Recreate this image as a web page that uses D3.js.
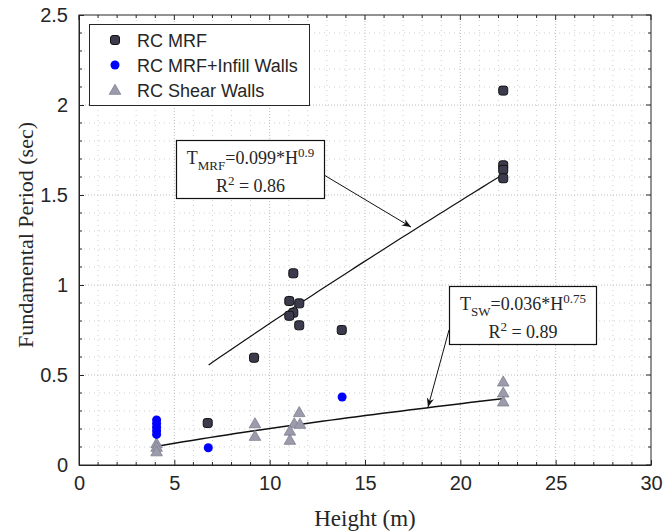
<!DOCTYPE html>
<html><head><meta charset="utf-8">
<script src="https://cdn.jsdelivr.net/npm/d3@7"></script>
<style>body{margin:0;background:#fff}svg{display:block}</style>
</head><body>
<script>
// ---- data ----
const mrfH = [6.75, 9.18, 11.24, 11.03, 11.55, 11.24, 11.03, 11.55, 13.78, 22.25, 22.25, 22.25, 22.25];
const mrfT = [0.233, 0.596, 1.065, 0.911, 0.898, 0.846, 0.829, 0.776, 0.75, 2.08, 1.665, 1.64, 1.593];
const infH = [4.07, 4.07, 4.07, 4.07, 4.07, 6.78, 13.8];
const infT = [0.25, 0.23, 0.21, 0.19, 0.17, 0.096, 0.378];
const swH = [4.07, 4.07, 4.07, 9.23, 9.23, 11.55, 11.29, 11.59, 11.06, 11.06, 22.25, 22.25, 22.25];
const swT = [0.12, 0.1, 0.075, 0.231, 0.161, 0.293, 0.231, 0.228, 0.19, 0.139, 0.463, 0.402, 0.352];
const xTicks = [0, 5, 10, 15, 20, 25, 30];
const yTicks = [0, 0.5, 1, 1.5, 2, 2.5];
const legendLabels = ["RC MRF", "RC MRF+Infill Walls", "RC Shear Walls"];
const fitMRF = {a: 0.099, b: 0.9, h0: 6.8, h1: 22.3};
const fitSW = {a: 0.036, b: 0.75, h0: 4.1, h1: 22.3};

const W = 664, H = 531;
const L = 79, R = 651, T = 15, B = 465;
const svg = d3.select("body").append("svg").attr("width", W).attr("height", H);
const x = d3.scaleLinear().domain([0, 30]).range([L, R]);
const y = d3.scaleLinear().domain([0, 2.5]).range([B, T]);
const txt = "#262626";
const sans = "Liberation Sans, Arial, sans-serif";
const serif = "Liberation Serif, serif";

// grid
const g = svg.append("g");
d3.range(0, 31, 1).forEach(v => {
  const major = v % 5 === 0;
  if (v === 0 || v === 30) return;
  g.append("line").attr("x1", x(v)).attr("x2", x(v)).attr("y1", T).attr("y2", B)
    .attr("stroke", major ? "#bdbdbd" : "#cfcfcf").attr("stroke-width", 1)
    .attr("stroke-dasharray", major ? "1,2" : "1,4");
});
d3.range(0, 26, 1).forEach(i => {
  const v = i / 10; const major = i % 5 === 0;
  if (i === 0 || i === 25) return;
  g.append("line").attr("x1", L).attr("x2", R).attr("y1", y(v)).attr("y2", y(v))
    .attr("stroke", major ? "#bdbdbd" : "#cfcfcf").attr("stroke-width", 1)
    .attr("stroke-dasharray", major ? "1,2" : "1,4");
});

// axes
const xAx = svg.append("g").attr("transform", `translate(0,${B})`)
  .call(d3.axisBottom(x).tickValues(xTicks).tickFormat(d3.format("d")).tickSizeInner(-5).tickSizeOuter(0).tickPadding(11));
const yAx = svg.append("g").attr("transform", `translate(${L},0)`)
  .call(d3.axisLeft(y).tickValues(yTicks).tickFormat(d => d).tickSizeInner(-5).tickSizeOuter(0).tickPadding(11));
[xAx, yAx].forEach(a => {
  a.selectAll("text").attr("fill", txt).style("font-family", sans).style("font-size", "20px");
  a.selectAll("line").attr("stroke", txt);
  a.select(".domain").attr("stroke", txt);
});
// minor ticks
d3.range(1, 30).forEach(v => { if (v % 5) {
  svg.append("line").attr("x1", x(v)).attr("x2", x(v)).attr("y1", B).attr("y2", B - 3).attr("stroke", txt);
  svg.append("line").attr("x1", x(v)).attr("x2", x(v)).attr("y1", T).attr("y2", T + 3).attr("stroke", txt);
}});
d3.range(1, 25).forEach(i => { if (i % 5) {
  svg.append("line").attr("x1", L).attr("x2", L + 3).attr("y1", y(i / 10)).attr("y2", y(i / 10)).attr("stroke", txt);
  svg.append("line").attr("x1", R).attr("x2", R - 3).attr("y1", y(i / 10)).attr("y2", y(i / 10)).attr("stroke", txt);
}});
xTicks.forEach(v => svg.append("line").attr("x1", x(v)).attr("x2", x(v)).attr("y1", T).attr("y2", T + 5).attr("stroke", txt));
yTicks.forEach(v => svg.append("line").attr("x1", R).attr("x2", R - 5).attr("y1", y(v)).attr("y2", y(v)).attr("stroke", txt));
svg.append("rect").attr("x", L).attr("y", T).attr("width", R - L).attr("height", B - T)
  .attr("fill", "none").attr("stroke", txt).attr("stroke-width", 1);

// axis titles
svg.append("text").attr("x", 365).attr("y", 526).attr("text-anchor", "middle")
  .attr("fill", txt).style("font-family", serif).style("font-size", "23px").text("Height (m)");
svg.append("text").attr("transform", `translate(33,${(T + B) / 2 - 5}) rotate(-90)`).attr("text-anchor", "middle")
  .attr("fill", txt).style("font-family", serif).style("font-size", "22px").text("Fundamental Period (sec)");

// fit curves
function fitLine(f) {
  const hs = d3.range(0, 41).map(i => f.h0 + (f.h1 - f.h0) * i / 40);
  return d3.line().x(h => x(h)).y(h => y(f.a * Math.pow(h, f.b)))(hs);
}
svg.append("path").attr("d", fitLine(fitMRF)).attr("fill", "none").attr("stroke", "#111").attr("stroke-width", 1.2);
svg.append("path").attr("d", fitLine(fitSW)).attr("fill", "none").attr("stroke", "#111").attr("stroke-width", 1.5);

// markers
const tri = d3.symbol().type(d3.symbolTriangle).size(58);
svg.append("g").selectAll("path").data(swH).join("path")
  .attr("d", tri).attr("transform", (d, i) => `translate(${x(d)},${y(swT[i]) + 1})`)
  .attr("fill", "#9b9bab").attr("stroke", "#7f7f90").attr("stroke-width", 0.8);
svg.append("g").selectAll("rect").data(mrfH).join("rect")
  .attr("x", d => x(d) - 4.5).attr("y", (d, i) => y(mrfT[i]) - 4.5).attr("width", 9).attr("height", 9)
  .attr("rx", 2.5).attr("fill", "#3b3b4d").attr("stroke", "#111").attr("stroke-width", 1);
svg.append("g").selectAll("circle").data(infH).join("circle")
  .attr("cx", d => x(d)).attr("cy", (d, i) => y(infT[i])).attr("r", 4.5).attr("fill", "#0000ff");

// legend
const lg = svg.append("g");
lg.append("rect").attr("x", 89.5).attr("y", 24.5).attr("width", 220).attr("height", 81)
  .attr("fill", "#fff").attr("stroke", txt).attr("stroke-width", 1);
lg.append("rect").attr("x", 110.5).attr("y", 35.5).attr("width", 9).attr("height", 9).attr("rx", 2.5)
  .attr("fill", "#3b3b4d").attr("stroke", "#111");
lg.append("circle").attr("cx", 115).attr("cy", 65).attr("r", 4.5).attr("fill", "#0000ff");
lg.append("path").attr("d", tri).attr("transform", "translate(115,91)").attr("fill", "#9b9bab").attr("stroke", "#7f7f90").attr("stroke-width", 0.8);
legendLabels.forEach((t, i) => lg.append("text").attr("x", 137).attr("y", 41 + i * 25).attr("dy", "0.35em")
  .attr("fill", txt).style("font-family", sans).style("font-size", "18px").text(t));

// annotations
svg.append("defs").append("marker").attr("id", "ah").attr("viewBox", "0 0 10 10").attr("refX", 10).attr("refY", 5)
  .attr("markerWidth", 9).attr("markerHeight", 9).attr("orient", "auto-start-reverse")
  .append("path").attr("d", "M0,1 L10,5 L0,9 L3,5 Z").attr("fill", "#111");

function annot(bx, by, bw, bh, sub, coef, pow, r2, ax1, ay1, ax2, ay2) {
  const gg = svg.append("g");
  gg.append("line").attr("x1", ax1).attr("y1", ay1).attr("x2", ax2).attr("y2", ay2)
    .attr("stroke", "#111").attr("stroke-width", 1).attr("marker-end", "url(#ah)");
  gg.append("rect").attr("x", bx).attr("y", by).attr("width", bw).attr("height", bh)
    .attr("fill", "#fff").attr("stroke", "#111").attr("stroke-width", 1.2);
  const t1 = gg.append("text").attr("x", bx + bw / 2).attr("y", by + 23).attr("text-anchor", "middle")
    .attr("fill", txt).style("font-family", serif).style("font-size", "18px");
  t1.append("tspan").text("T");
  t1.append("tspan").attr("dy", 6).style("font-size", "13px").text(sub);
  t1.append("tspan").attr("dy", -6).text("=" + coef + "*H");
  t1.append("tspan").attr("dy", -7).style("font-size", "13px").text(pow);
  const t2 = gg.append("text").attr("x", bx + bw / 2).attr("y", by + 51).attr("text-anchor", "middle")
    .attr("fill", txt).style("font-family", serif).style("font-size", "18px");
  t2.append("tspan").text("R");
  t2.append("tspan").attr("dy", -7).style("font-size", "13px").text("2");
  t2.append("tspan").attr("dy", 7).text(" = " + r2);
}
annot(176.5, 140.5, 148, 58, "MRF", "0.099", "0.9", "0.86", 324, 175, 411, 227);
annot(449.5, 286.5, 147, 58, "SW", "0.036", "0.75", "0.89", 449, 330, 428, 407);
</script>
</body></html>
